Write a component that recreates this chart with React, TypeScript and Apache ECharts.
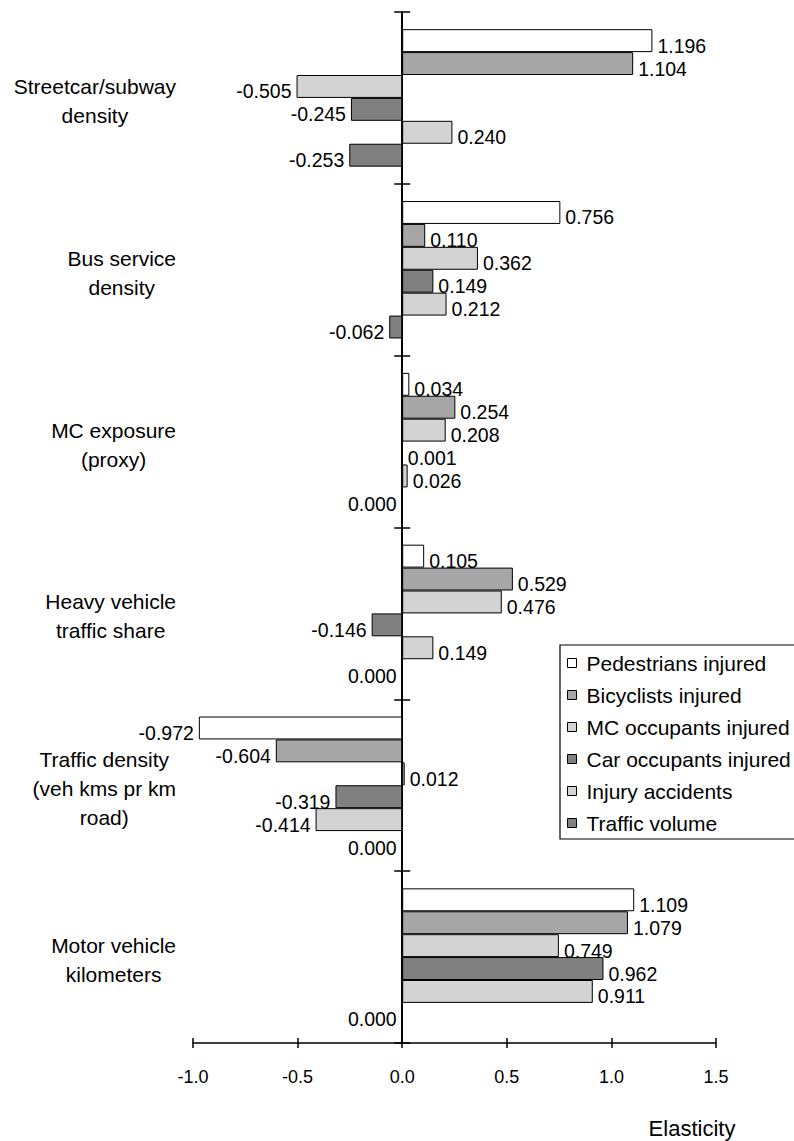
import React, { useEffect, useRef } from "react";
import * as echarts from "echarts";

const categories = [
  "Streetcar/subway\ndensity",
  "Bus service\ndensity",
  "MC exposure\n(proxy)",
  "Heavy vehicle\ntraffic share",
  "Traffic density\n(veh kms pr km\nroad)",
  "Motor vehicle\nkilometers",
];

const seriesNames = [
  "Pedestrians injured",
  "Bicyclists injured",
  "MC occupants injured",
  "Car occupants injured",
  "Injury accidents",
  "Traffic volume",
];

const pedestrians = [1.196, 0.756, 0.034, 0.105, -0.972, 1.109];
const bicyclists = [1.104, 0.11, 0.254, 0.529, -0.604, 1.079];
const mcOccupants = [-0.505, 0.362, 0.208, 0.476, 0.012, 0.749];
const carOccupants = [-0.245, 0.149, 0.001, -0.146, -0.319, 0.962];
const injuryAccidents = [0.24, 0.212, 0.026, 0.149, -0.414, 0.911];
const trafficVolume = [-0.253, -0.062, 0.0, 0.0, 0.0, 0.0];

const xTicks = [-1.0, -0.5, 0.0, 0.5, 1.0, 1.5];

const seriesColors = ["#ffffff", "#a6a6a6", "#d3d3d3", "#808080", "#d3d3d3", "#808080"];

const FONT = "'Liberation Sans', Arial, sans-serif";

export default function App() {
  const ref = useRef<HTMLDivElement>(null);

  useEffect(() => {
    if (!ref.current) return;
    const chart = echarts.init(ref.current, null, { renderer: "svg" });
    const allSeries = [pedestrians, bicyclists, mcOccupants, carOccupants, injuryAccidents, trafficVolume];
    const xMin = xTicks[0];
    const xMax = xTicks[xTicks.length - 1];
    const xInterval = xTicks[1] - xTicks[0];

    const option: any = {
      animation: false,
      backgroundColor: "#ffffff",
      textStyle: { fontFamily: FONT, color: "#000" },
      grid: {
        left: 193,
        right: 78,
        top: 12,
        bottom: 98,
        containLabel: false,
        outerBoundsMode: "none",
      },
      legend: {
        orient: "vertical",
        left: 560,
        top: 645,
        data: seriesNames,
        icon: "rect",
        itemWidth: 9,
        itemHeight: 9,
        itemGap: 0,
        padding: [2, 12, 0, 7],
        borderColor: "#000",
        borderWidth: 1.2,
        backgroundColor: "#fff",
        itemStyle: { borderColor: "#000", borderWidth: 1 },
        textStyle: {
          fontFamily: FONT,
          fontSize: 21,
          color: "#000",
          lineHeight: 22,
          padding: [10, 0, 0, 5],
        },
      },
      xAxis: [
        {
          type: "value",
          position: "bottom",
          min: xMin,
          max: xMax,
          interval: xInterval,
          axisLine: { show: true, lineStyle: { color: "#000", width: 1.5 } },
          axisTick: { show: true, inside: false, length: 5, lineStyle: { color: "#000", width: 1.5 } },
          splitLine: { show: false },
          axisLabel: {
            fontFamily: FONT,
            fontSize: 18,
            color: "#000",
            margin: 25,
            formatter: (v: number) => v.toFixed(1),
          },
          name: "Elasticity",
          nameLocation: "end",
          nameGap: -24,
          nameTextStyle: {
            fontFamily: FONT,
            fontSize: 22,
            color: "#000",
            align: "center",
            verticalAlign: "top",
            padding: [74, 0, 0, 0],
          },
        },
        {
          type: "value",
          position: "bottom",
          min: xMin,
          max: xMax,
          interval: xInterval,
          axisLine: { show: false },
          axisTick: { show: true, inside: true, length: 5, lineStyle: { color: "#000", width: 1.5 } },
          splitLine: { show: false },
          axisLabel: { show: false },
        },
      ],
      yAxis: [
        {
          type: "category",
          position: "left",
          inverse: true,
          data: categories,
          axisLine: { show: true, onZero: true, onZeroAxisIndex: 0, lineStyle: { color: "#000", width: 2 } },
          axisTick: { show: true, inside: false, length: 8, lineStyle: { color: "#000", width: 1.5 } },
          splitLine: { show: false },
          axisLabel: {
            interval: 0,
            margin: 17,
            align: "right",
            padding: [6, 0, 0, 0],
            formatter: (name: string) =>
              name
                .split("\n")
                .map((l) => `{c|${l}}`)
                .join("\n"),
            rich: {
              c: {
                align: "center",
                fontFamily: FONT,
                fontSize: 21,
                lineHeight: 29,
                color: "#000",
              },
            },
          },
        },
        {
          type: "category",
          position: "left",
          inverse: true,
          data: categories,
          axisLine: { show: false, onZero: true, onZeroAxisIndex: 0 },
          axisTick: { show: true, inside: true, length: 8, lineStyle: { color: "#000", width: 1.5 } },
          splitLine: { show: false },
          axisLabel: { show: false },
        },
      ],
      series: allSeries.map((vals, i) => ({
        name: seriesNames[i],
        type: "bar",
        xAxisIndex: 0,
        yAxisIndex: 0,
        barGap: "0%",
        barCategoryGap: "20%",
        itemStyle: { color: seriesColors[i], borderColor: "#000", borderWidth: 1 },
        label: {
          show: true,
          distance: 5,
          offset: [0, 5],
          fontFamily: FONT,
          fontSize: 19.5,
          color: "#000",
          formatter: (p: any) => Number(p.value).toFixed(3),
        },
        data: vals.map((v) => ({
          value: v,
          label: { position: v > 0 ? "right" : "left" },
        })),
      })),
    };

    chart.setOption(option);
    return () => chart.dispose();
  }, []);

  return (
    <div
      ref={ref}
      style={{ position: "absolute", left: 0, top: 0, width: 794, height: 1141, background: "#fff" }}
    />
  );
}
